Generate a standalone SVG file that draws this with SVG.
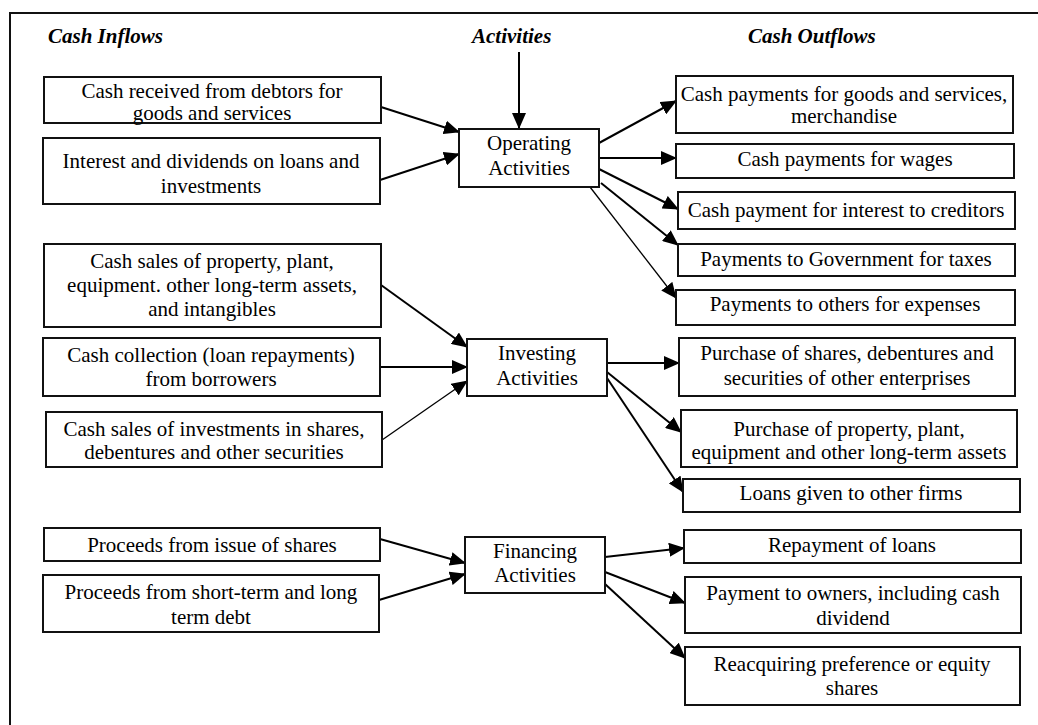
<svg xmlns="http://www.w3.org/2000/svg" width="1038" height="725" viewBox="0 0 1038 725">
  <style>
    .box { fill: #ffffff; stroke: #111111; stroke-width: 2; }
    .frame { fill: none; stroke: #111111; stroke-width: 2; }
    text { font-family: "Liberation Serif", "Times New Roman", serif; font-size: 21px; fill: #000000; }
    .lbl { text-anchor: middle; }
    .hdr { font-weight: bold; font-style: italic; }
    .conn { stroke: #000000; stroke-width: 2; fill: none; marker-end: url(#head); }
    .thin { stroke-width: 1.3; }
  </style>
  <defs>
    <marker id="head" markerUnits="userSpaceOnUse" markerWidth="17" markerHeight="14" refX="15" refY="7" orient="auto">
      <path d="M0,0 L16,7 L0,14 z" fill="#000000"/>
    </marker>
  </defs>

  <rect width="1038" height="725" fill="#ffffff"/>
  <!-- page frame: top and left rules -->
  <path class="frame" d="M10,725 L10,13 L1038,13"/>

  <!-- column headings -->
  <g id="headings">
    <text class="hdr" x="48" y="43">Cash Inflows</text>
    <text class="hdr" x="472" y="43">Activities</text>
    <text class="hdr" x="748" y="43">Cash Outflows</text>
  </g>

  <!-- connectors -->
  <g id="connectors">
    <line class="conn" x1="519" y1="52" x2="519" y2="128"/>
    <line class="conn" x1="381" y1="107" x2="459" y2="132"/>
    <line class="conn" x1="380" y1="180" x2="459" y2="154"/>
    <line class="conn" x1="599" y1="143" x2="676" y2="101"/>
    <line class="conn" x1="599" y1="158" x2="676" y2="158"/>
    <line class="conn" x1="599" y1="169" x2="678" y2="209"/>
    <line class="conn" x1="601" y1="183" x2="678" y2="245"/>
    <line class="conn thin" x1="590" y1="187" x2="676" y2="298"/>
    <line class="conn" x1="381" y1="285" x2="467" y2="347"/>
    <line class="conn" x1="380" y1="367" x2="467" y2="367"/>
    <line class="conn thin" x1="382" y1="440" x2="467" y2="381"/>
    <line class="conn" x1="607" y1="363" x2="679" y2="363"/>
    <line class="conn" x1="607" y1="372" x2="681" y2="432"/>
    <line class="conn" x1="607" y1="378" x2="683" y2="492"/>
    <line class="conn" x1="380" y1="539" x2="465" y2="563"/>
    <line class="conn" x1="379" y1="600" x2="465" y2="574"/>
    <line class="conn" x1="605" y1="557" x2="684" y2="548"/>
    <line class="conn" x1="605" y1="572" x2="685" y2="603"/>
    <line class="conn" x1="605" y1="584" x2="685" y2="658"/>
  </g>

  <!-- cash inflows -->
  <g id="in-debtors">
    <rect class="box" x="44" y="77" width="337" height="46"/>
    <text class="lbl" x="212" y="98">Cash received from debtors for</text>
    <text class="lbl" x="212" y="120">goods and services</text>
  </g>
  <g id="in-interest">
    <rect class="box" x="43" y="138" width="337" height="66"/>
    <text class="lbl" x="211" y="168">Interest and dividends on loans and</text>
    <text class="lbl" x="211" y="193">investments</text>
  </g>
  <g id="in-asset-sales">
    <rect class="box" x="44" y="244" width="337" height="83"/>
    <text class="lbl" x="212" y="268">Cash sales of property, plant,</text>
    <text class="lbl" x="212" y="292">equipment. other long-term assets,</text>
    <text class="lbl" x="212" y="316">and intangibles</text>
  </g>
  <g id="in-loan-collection">
    <rect class="box" x="43" y="338" width="337" height="58"/>
    <text class="lbl" x="211" y="362">Cash collection (loan repayments)</text>
    <text class="lbl" x="211" y="386">from borrowers</text>
  </g>
  <g id="in-investment-sales">
    <rect class="box" x="46" y="412" width="336" height="55"/>
    <text class="lbl" x="214" y="436">Cash sales of investments in shares,</text>
    <text class="lbl" x="214" y="459">debentures and other securities</text>
  </g>
  <g id="in-share-issue">
    <rect class="box" x="44" y="528" width="336" height="33"/>
    <text class="lbl" x="212" y="552">Proceeds from issue of shares</text>
  </g>
  <g id="in-debt">
    <rect class="box" x="43" y="575" width="336" height="57"/>
    <text class="lbl" x="211" y="599">Proceeds from short-term and long</text>
    <text class="lbl" x="211" y="624">term debt</text>
  </g>

  <!-- activities -->
  <g id="operating">
    <rect class="box" x="459" y="129" width="140" height="58"/>
    <text class="lbl" x="529" y="150">Operating</text>
    <text class="lbl" x="529" y="175">Activities</text>
  </g>
  <g id="investing">
    <rect class="box" x="467" y="339" width="140" height="57"/>
    <text class="lbl" x="537" y="360">Investing</text>
    <text class="lbl" x="537" y="385">Activities</text>
  </g>
  <g id="financing">
    <rect class="box" x="465" y="537" width="140" height="56"/>
    <text class="lbl" x="535" y="558">Financing</text>
    <text class="lbl" x="535" y="582">Activities</text>
  </g>

  <!-- cash outflows -->
  <g id="out-goods">
    <rect class="box" x="676" y="76" width="337" height="57"/>
    <text class="lbl" x="844" y="101">Cash payments for goods and services,</text>
    <text class="lbl" x="844" y="123">merchandise</text>
  </g>
  <g id="out-wages">
    <rect class="box" x="676" y="144" width="338" height="34"/>
    <text class="lbl" x="845" y="166">Cash payments for wages</text>
  </g>
  <g id="out-interest">
    <rect class="box" x="678" y="192" width="337" height="37"/>
    <text class="lbl" x="846" y="217">Cash payment for interest to creditors</text>
  </g>
  <g id="out-taxes">
    <rect class="box" x="678" y="244" width="337" height="32"/>
    <text class="lbl" x="846" y="266">Payments to Government for taxes</text>
  </g>
  <g id="out-expenses">
    <rect class="box" x="676" y="290" width="339" height="35"/>
    <text class="lbl" x="845" y="311">Payments to others for expenses</text>
  </g>
  <g id="out-shares">
    <rect class="box" x="679" y="338" width="336" height="58"/>
    <text class="lbl" x="847" y="360">Purchase of shares, debentures and</text>
    <text class="lbl" x="847" y="385">securities of other enterprises</text>
  </g>
  <g id="out-property">
    <rect class="box" x="681" y="410" width="336" height="57"/>
    <text class="lbl" x="849" y="436">Purchase of property, plant,</text>
    <text class="lbl" x="849" y="459">equipment and other long-term assets</text>
  </g>
  <g id="out-loans-given">
    <rect class="box" x="683" y="479" width="337" height="33"/>
    <text class="lbl" x="851" y="500">Loans given to other firms</text>
  </g>
  <g id="out-repayment">
    <rect class="box" x="684" y="530" width="337" height="33"/>
    <text class="lbl" x="852" y="552">Repayment of loans</text>
  </g>
  <g id="out-owners">
    <rect class="box" x="685" y="577" width="336" height="56"/>
    <text class="lbl" x="853" y="600">Payment to owners, including cash</text>
    <text class="lbl" x="853" y="625">dividend</text>
  </g>
  <g id="out-reacquire">
    <rect class="box" x="685" y="647" width="335" height="58"/>
    <text class="lbl" x="852" y="671">Reacquiring preference or equity</text>
    <text class="lbl" x="852" y="695">shares</text>
  </g>
</svg>
